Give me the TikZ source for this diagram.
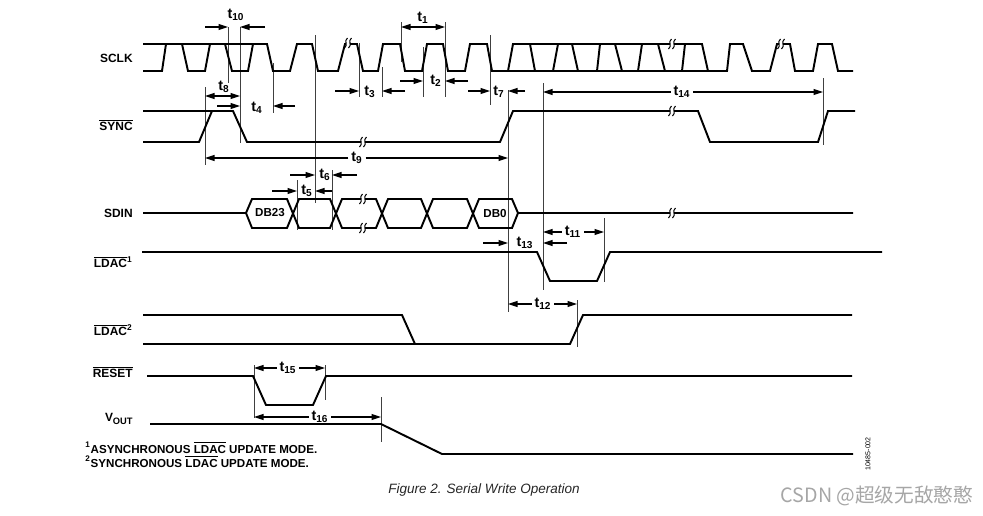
\documentclass[tikz,border=0pt]{standalone}
\usepackage{fontspec}
\setmainfont{Liberation Sans}
\newfontfamily\cjkfont{Noto Sans CJK SC}
\usetikzlibrary{arrows.meta}

\tikzset{
  wave/.style={line width=1.1pt, line join=miter},
  guide/.style={line width=0.5pt, black!75},
  dim/.style={line width=0.6pt, -{Triangle[length=1.9mm,width=1.2mm]}},
  dimm/.style={line width=0.6pt, {Triangle[length=1.9mm,width=1.2mm]}-{Triangle[length=1.9mm,width=1.2mm]}},
  sig/.style={font=\fontsize{6.8}{8}\selectfont\bfseries, anchor=east, inner sep=0pt},
  tlab/.style={font=\fontsize{8.2}{9}\selectfont\bfseries, inner sep=1.5pt},
  foot/.style={font=\fontsize{6.6}{8}\selectfont\bfseries, anchor=base west, inner sep=0pt},
}
\newcommand{\tsub}[1]{t\textsubscript{#1}}
% break mark on a wave
\newcommand{\wbrk}[2]{%
  \fill[white] (#1,#2-1.5) rectangle (#1+4,#2+1.5);
  \foreach \dx in {0,4}
    \draw[line width=0.6pt] (#1+\dx-1.5,#2+5) .. controls (#1+\dx+2.5,#2+2) and (#1+\dx-2.5,#2-2) .. (#1+\dx+1.5,#2-5);
}

\begin{document}
\begin{tikzpicture}[x=0.02cm,y=-0.02cm]
\useasboundingbox (0,0) rectangle (983,515);

% signal names
\node[sig] (sclk) at (133,58) {SCLK};
\node[sig] (sync) at (133,125) {$\overline{\mbox{SYNC}}$};
\node[sig] (sdin) at (133,213) {SDIN};
\node[sig] (ldaca) at (133,262) {$\overline{\mbox{LDAC}}$\textsuperscript{1}};
\node[sig] (ldacb) at (133,330) {$\overline{\mbox{LDAC}}$\textsuperscript{2}};
\node[sig] (reset) at (133,372) {$\overline{\mbox{RESET}}$};
\node[sig] (vout) at (133,419) {V\raisebox{-0.35ex}{\fontsize{5.3}{6}\selectfont OUT}};

% guide lines
\foreach \x/\ya/\yb in {205/87/165, 228/27/83, 240/27/143, 273/63/113, 315/35/203,
    297/180/230, 332/170/230, 359/43/97, 382/67/97, 401/22/62, 423/47/97, 445/22/97,
    490/35/105, 508/90/312, 543/83/290, 604/218/282, 577/300/347, 823/78/145,
    254/365/418, 325/365/400, 381/397/442}
  \draw[guide] (\x,\ya) -- (\x,\yb);

% SCLK
\draw[wave] (143,44) -- (267,44);
\draw[wave] (143,71) -- (162,71) -- (166,44) -- (182,44) -- (188,71) -- (205,71) -- (210,44)
  -- (225,44) -- (232,71) -- (248,71) -- (253,44) -- (267,44) -- (273,71) -- (290,71) -- (297,44)
  -- (312,44) -- (318,71) -- (338,71) -- (345,44) -- (357,44) -- (363,71) -- (378,71) -- (383,44)
  -- (400,44) -- (405,71) -- (422,71) -- (427,44) -- (443,44) -- (448,71) -- (465,71) -- (470,44)
  -- (487,44) -- (492,71) -- (508,71) -- (513,44) -- (702,44) -- (708,71) -- (727,71) -- (730,44)
  -- (743,44) -- (752,71) -- (770,71) -- (777,44) -- (790,44) -- (795,71) -- (813,71) -- (818,44)
  -- (832,44) -- (838,71) -- (853,71);
\draw[wave] (508,71) -- (708,71);
\foreach \xa/\ya/\xb/\yb in {530/44/535/71, 553/71/558/44, 572/44/578/71, 597/71/600/44,
    615/44/622/71, 638/71/642/44, 658/44/665/71, 682/71/685/44}
  \draw[wave] (\xa,\ya) -- (\xb,\yb);

% SYNC
\draw[wave] (143,142) -- (199,142) -- (212,111);
\draw[wave] (143,111) -- (233,111) -- (247,142) -- (500,142) -- (513,111) -- (698,111)
  -- (710,142) -- (818,142) -- (828,111) -- (855,111);

% SDIN
\draw[wave] (143,213) -- (246,213) -- (252,199) -- (287,199) -- (299,228) -- (330,228) -- (342,199)
  -- (376,199) -- (388,228) -- (421,228) -- (433,199) -- (467,199) -- (479,228) -- (512,228)
  -- (518,213) -- (853,213);
\draw[wave] (246,213) -- (252,228) -- (287,228) -- (299,199) -- (330,199) -- (342,228)
  -- (376,228) -- (388,199) -- (421,199) -- (433,228) -- (467,228) -- (479,199) -- (512,199)
  -- (518,213);
\node[font=\fontsize{6.6}{8}\selectfont\bfseries] (db23) at (270,213) {DB23};
\node[font=\fontsize{6.6}{8}\selectfont\bfseries] (db0) at (495,213) {DB0};

% LDAC, RESET, VOUT
\draw[wave] (142,252) -- (537,252) -- (550,281) -- (597,281) -- (610,252) -- (882,252);
\draw[wave] (143,315) -- (402,315) -- (415,344) -- (570,344) -- (583,315) -- (852,315);
\draw[wave] (143,344) -- (415,344);
\draw[wave] (147,376) -- (253,376) -- (266,405) -- (313,405) -- (326,376) -- (852,376);
\draw[wave] (150,424) -- (381,424) -- (442,454) -- (853,454);

% breaks
\wbrk{346}{43}
\wbrk{670}{44}
\wbrk{779}{44}
\wbrk{361}{142}
\wbrk{670}{111}
\wbrk{361}{199}
\wbrk{361}{228}
\wbrk{670}{213}

% timing
\node[tlab] (t10) at (236,15) {\tsub{10}};
\draw[dim] (205,27) -- (228,27);
\draw[dim] (265,27) -- (240,27);
\node[tlab] (t8) at (224,87) {\tsub{8}};
\draw[dimm] (205,96) -- (240,96);
\node[tlab] (t4) at (257,108) {\tsub{4}};
\draw[dim] (217,106) -- (240,106);
\draw[dim] (295,106) -- (273,106);
\node[tlab] (t9) at (357,158) {\tsub{9}};
\draw[dim] (t9) -- (205,158);
\draw[dim] (t9) -- (508,158);
\node[tlab] (t6) at (325,175) {\tsub{6}};
\draw[dim] (290,175) -- (315,175);
\draw[dim] (357,175) -- (332,175);
\node[tlab] (t5) at (307,191) {\tsub{5}};
\draw[dim] (272,191) -- (297,191);
\draw[dim] (332,191) -- (315,191);
\node[tlab] (t3) at (370,92) {\tsub{3}};
\draw[dim] (335,91) -- (359,91);
\draw[dim] (405,91) -- (382,91);
\node[tlab] (t1) at (423,18) {\tsub{1}};
\draw[dimm] (401,27) -- (445,27);
\node[tlab] (t2) at (436,81) {\tsub{2}};
\draw[dim] (400,81) -- (423,81);
\draw[dim] (468,81) -- (445,81);
\node[tlab] (t7) at (499,92) {\tsub{7}};
\draw[dim] (468,91) -- (490,91);
\draw[dim] (525,91) -- (508,91);
\node[tlab] (t14) at (682,92) {\tsub{14}};
\draw[dim] (t14) -- (543,92);
\draw[dim] (t14) -- (823,92);
\node[tlab] (t11) at (573,232) {\tsub{11}};
\draw[dim] (t11) -- (543,232);
\draw[dim] (t11) -- (604,232);
\node[tlab] (t13) at (525,243) {\tsub{13}};
\draw[dim] (483,243) -- (508,243);
\draw[dim] (567,243) -- (543,243);
\node[tlab] (t12) at (543,304) {\tsub{12}};
\draw[dim] (t12) -- (508,304);
\draw[dim] (t12) -- (577,304);
\node[tlab] (t15) at (288,368) {\tsub{15}};
\draw[dim] (t15) -- (254,368);
\draw[dim] (t15) -- (325,368);
\node[tlab] (t16) at (320,417) {\tsub{16}};
\draw[dim] (t16) -- (254,417);
\draw[dim] (t16) -- (381,417);

% notes
\node[foot] (fn1) at (85,453) {\textsuperscript{1}ASYNCHRONOUS $\overline{\mbox{LDAC}}$ UPDATE MODE.};
\node[foot] (fn2) at (85,467) {\textsuperscript{2}SYNCHRONOUS $\overline{\mbox{LDAC}}$ UPDATE MODE.};
\node[rotate=90, font=\fontsize{4}{5}\selectfont] (code) at (868,454) {10485-002};
\node[font=\fontsize{7.7}{9}\selectfont\itshape, text=black!85] (cap) at (484,490) {Figure 2. Serial Write Operation};
\node[font=\cjkfont\fontsize{11.2}{13}\selectfont, text=black!35] (wm) at (877,496) {CSDN @超级无敌憨憨};
\end{tikzpicture}
\end{document}
